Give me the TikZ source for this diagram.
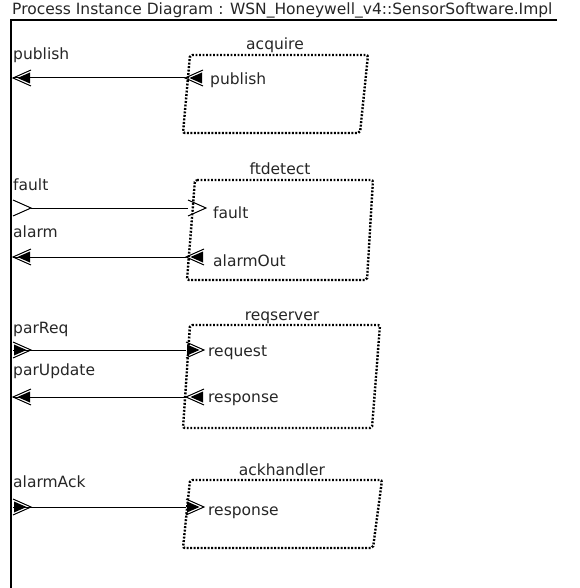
\documentclass[tikz,border=0pt]{standalone}
\usepackage{fontspec}
\setmainfont{DejaVu Sans}
\begin{document}
\begin{tikzpicture}[x=1pt,y=-1pt,
  txt/.style={inner sep=0pt, anchor=base west, font=\fontsize{15.5}{18}\selectfont, text=black!85},
  grouplabel/.style={inner sep=0pt, anchor=base, font=\fontsize{15.5}{18}\selectfont, text=black!85},
  comp/.style={draw, line width=2.4pt, dash pattern=on 1.9pt off 1.6pt, rounded corners=2pt},
  conn/.style={draw, line width=1pt},
  frame/.style={draw, line width=1.2pt},
  outport/.pic={\draw[line width=1pt] (18,-8) -- (0,0) -- (18,8); \fill (4.5,0) -- (17,-5.5) -- (17,5.5) -- cycle;},
  inport/.pic={\draw[line width=1pt] (0,-8) -- (18,0) -- (0,8);},
  indport/.pic={\draw[line width=1pt] (0,-8) -- (18,0) -- (0,8); \fill (1,-5.5) -- (13.5,0) -- (1,5.5) -- cycle;}
]
\useasboundingbox (0,0) rectangle (579,588);
\fill[white] (0,0) rectangle (579,588);

% title and frame
\node[txt] (title) at (12,15) {Process Instance Diagram : WSN\_Honeywell\_v4::SensorSoftware.Impl};
\coordinate (fl) at (10,20);
\coordinate (fr) at (557,20);
\coordinate (fb) at (11,588);
\draw[frame] (fr) -- (fl);
\draw[frame] (11,20) -- (fb);

% ---------- acquire ----------
\draw[comp] (190,55) -- (368,55) -- (360,133) -- (183,133) -- cycle;
\node[grouplabel] (acqL) at (275,50) {acquire};
\node[txt] (pubO) at (13,60) {publish};
\node[txt] (pubI) at (210,85) {publish};
\coordinate (p1o) at (13,78);
\coordinate (p1i) at (185,78);
\draw[conn] (p1i) -- (p1o);
\pic at (p1o) {outport};
\pic at (p1i) {outport};

% ---------- ftdetect ----------
\draw[comp] (195,180) -- (373,180) -- (367,280) -- (187,280) -- cycle;
\node[grouplabel] (ftL) at (280,175) {ftdetect};
\node[txt] (faultO) at (13,190) {fault};
\node[txt] (alarmO) at (13,237) {alarm};
\node[txt] (faultI) at (213,218) {fault};
\node[txt] (alarmI) at (213,266) {alarmOut};
\coordinate (p2o) at (31,208);
\coordinate (p2i) at (188,208);
\draw[conn] (p2o) -- (p2i);
\pic at (13,208) {inport};
\pic at (p2i) {inport};
\coordinate (p3o) at (13,257);
\coordinate (p3i) at (186,257);
\draw[conn] (p3i) -- (p3o);
\pic at (p3o) {outport};
\pic at (p3i) {outport};

% ---------- reqserver ----------
\draw[comp] (190,325) -- (380,325) -- (372,428) -- (183,428) -- cycle;
\node[grouplabel] (rqL) at (282,320) {reqserver};
\node[txt] (parReqO) at (13,333) {parReq};
\node[txt] (parUpO) at (13,375) {parUpdate};
\node[txt] (reqI) at (208,356) {request};
\node[txt] (respI) at (208,402) {response};
\coordinate (p4o) at (13,350);
\coordinate (p4i) at (186,350);
\draw[conn] (p4o) -- (p4i);
\pic at (p4o) {indport};
\pic at (p4i) {indport};
\coordinate (p5o) at (13,397);
\coordinate (p5i) at (186,397);
\draw[conn] (p5i) -- (p5o);
\pic at (p5o) {outport};
\pic at (p5i) {outport};

% ---------- ackhandler ----------
\draw[comp] (190,480) -- (382,480) -- (373,548) -- (183,548) -- cycle;
\node[grouplabel] (ahL) at (282,475) {ackhandler};
\node[txt] (ackO) at (13,487) {alarmAck};
\node[txt] (ackI) at (208,515) {response};
\coordinate (p6o) at (13,507);
\coordinate (p6i) at (186,507);
\draw[conn] (p6o) -- (p6i);
\pic at (p6o) {indport};
\pic at (p6i) {indport};
\end{tikzpicture}
\end{document}
